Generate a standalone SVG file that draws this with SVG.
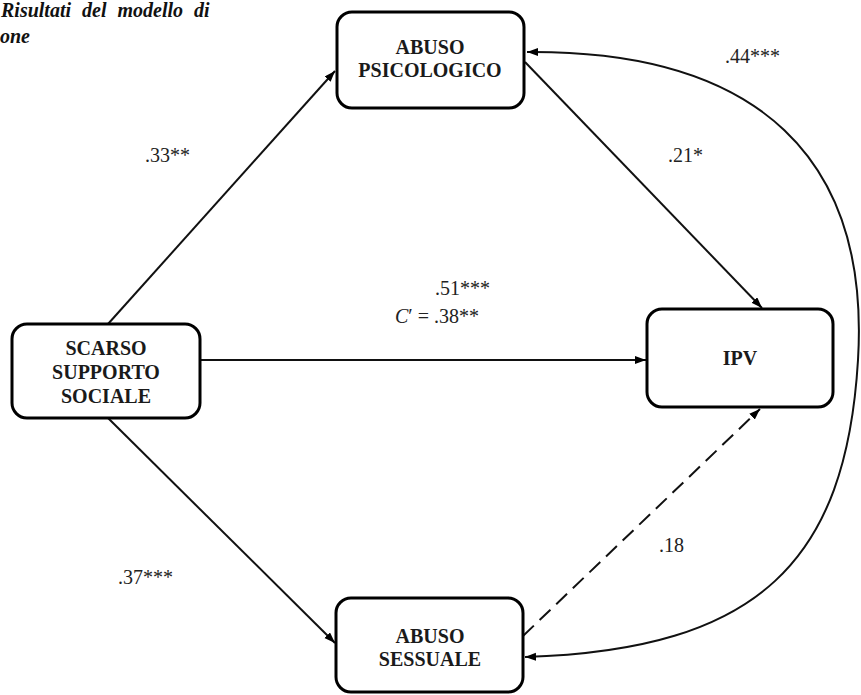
<svg xmlns="http://www.w3.org/2000/svg" width="861" height="695" viewBox="0 0 861 695">
<style>
.box{fill:#fff;stroke:#000;stroke-width:3}
.nt{font-family:"Liberation Serif","Times New Roman","DejaVu Serif",serif;font-weight:bold;font-size:20px;fill:#1a1a1a;text-anchor:middle}
.lbl{font-family:"Liberation Serif","Times New Roman","DejaVu Serif",serif;font-size:20px;fill:#222}
.ln{fill:none;stroke:#111;stroke-width:2}
.title{font-family:"Liberation Serif","Times New Roman","DejaVu Serif",serif;font-weight:bold;font-style:italic;font-size:20px;fill:#111}
</style>
<defs>
<marker id="ah" markerUnits="userSpaceOnUse" markerWidth="12" markerHeight="10" refX="11" refY="4" orient="auto">
<path d="M0,0 L11,4 L0,8 z" fill="#000"/>
</marker>
<marker id="ahs" markerUnits="userSpaceOnUse" markerWidth="12" markerHeight="10" refX="11" refY="4" orient="auto-start-reverse">
<path d="M0,0 L11,4 L0,8 z" fill="#000"/>
</marker>
</defs>
<rect width="861" height="695" fill="#fff"/>
<g id="title">
<text class="title" x="1" y="17" word-spacing="6">Risultati del modello di</text>
<text class="title" x="0" y="43">one</text>
</g>
<g id="connectors">
<line class="ln" x1="108" y1="324" x2="335" y2="71" marker-end="url(#ah)"/>
<line class="ln" x1="108" y1="418" x2="335" y2="643" marker-end="url(#ah)"/>
<line class="ln" x1="200" y1="360" x2="646" y2="360" marker-end="url(#ah)"/>
<line class="ln" x1="525" y1="62" x2="762" y2="308" marker-end="url(#ah)"/>
<line class="ln" x1="523" y1="636" x2="760" y2="409" stroke-dasharray="15 8" marker-end="url(#ah)"/>
<path class="ln" d="M527,52 C760,50 870,160 858,360 C846,560 760,650 525,657" marker-start="url(#ahs)" marker-end="url(#ah)"/>
</g>
<g id="labels">
<text class="lbl" x="145" y="162">.33**</text>
<text class="lbl" x="668" y="162">.21*</text>
<text class="lbl" x="725" y="63">.44***</text>
<text class="lbl" x="435" y="295">.51***</text>
<text class="lbl" x="395" y="323"><tspan font-style="italic">C</tspan>′ = .38**</text>
<text class="lbl" x="118" y="584">.37***</text>
<text class="lbl" x="659" y="552">.18</text>
</g>
<g id="n-psicologico">
<rect class="box" x="337" y="12" width="187" height="96" rx="15"/>
<text class="nt" x="430" y="54">ABUSO</text>
<text class="nt" x="430" y="77">PSICOLOGICO</text>
</g>
<g id="n-scarso">
<rect class="box" x="12" y="324" width="188" height="94" rx="15"/>
<text class="nt" x="106" y="355">SCARSO</text>
<text class="nt" x="106" y="379">SUPPORTO</text>
<text class="nt" x="106" y="403">SOCIALE</text>
</g>
<g id="n-ipv">
<rect class="box" x="647" y="309" width="186" height="98" rx="15"/>
<text class="nt" x="740" y="365">IPV</text>
</g>
<g id="n-sessuale">
<rect class="box" x="336" y="598" width="187" height="94" rx="15"/>
<text class="nt" x="430" y="643">ABUSO</text>
<text class="nt" x="430" y="666">SESSUALE</text>
</g>
</svg>
